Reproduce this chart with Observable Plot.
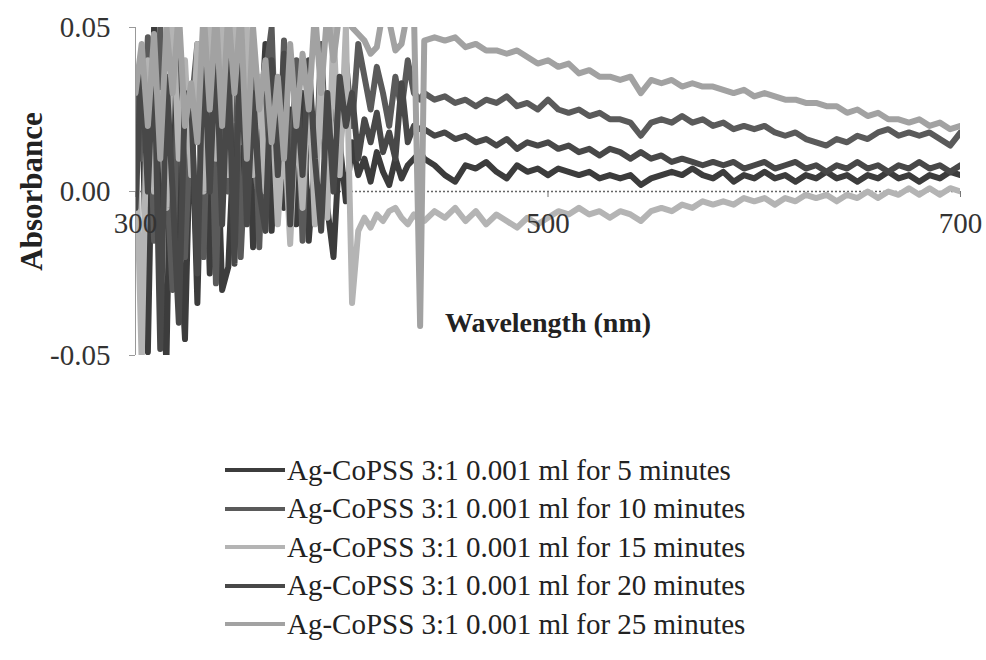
<!DOCTYPE html>
<html>
<head>
<meta charset="utf-8">
<script src="https://cdn.jsdelivr.net/npm/d3@7"></script>
<script src="https://cdn.jsdelivr.net/npm/@observablehq/plot@0.6"></script>
<style>
  body { margin: 0; background: #fff; font-family: "Liberation Serif", "Times New Roman", serif; }
  #chart svg { display: block; }
  #legend { margin-top: 51px; margin-left: 225px; }
  .row { height: 38.5px; display: flex; align-items: center; font-size: 29px; color: #222; white-space: nowrap; }
  .sw { width: 60px; height: 4px; margin-right: 2px; }
</style>
</head>
<body>
<div id="chart"></div>
<div id="legend"></div>
<script>
// Wavelengths (nm)
const wavelength = [
  300,303,306,309,312,315,318,321,324,327,330,333,336,339,342,345,348,351,354,357,
  360,363,366,369,372,375,378,381,384,387,390,393,396,399,
  402,405,408,411,414,417,420,423,426,429,432,435,438,
  440,445,450,455,460,465,470,475,480,485,490,495,500,505,510,515,520,525,530,535,
  540,545,550,555,560,565,570,575,580,585,590,595,600,605,610,615,620,625,630,635,
  640,645,650,655,660,665,670,675,680,685,690,695,700
];

const seriesNames = [
  "Ag-CoPSS 3:1 0.001 ml for 5 minutes",
  "Ag-CoPSS 3:1 0.001 ml for 10 minutes",
  "Ag-CoPSS 3:1 0.001 ml for 15 minutes",
  "Ag-CoPSS 3:1 0.001 ml for 20 minutes",
  "Ag-CoPSS 3:1 0.001 ml for 25 minutes"
];
const seriesColors = ["#3c3c3c", "#5a5a5a", "#b4b4b4", "#484848", "#a2a2a2"];

const abs5min = [
  0.020,0.035,-0.049,0.050,-0.020,-0.052,0.050,-0.010,-0.045,0.030,-0.034,0.040,-0.025,0.030,-0.030,-0.023,0.020,-0.015,0.040,-0.017,
  0.010,0.045,-0.012,0.020,-0.005,0.025,-0.010,0.030,-0.015,0.010,0.035,-0.005,-0.020,0.015,
  -0.003,0.015,0.005,0.010,0.003,0.012,0.006,0.002,0.010,0.004,0.008,0.010,0.012,
  0.010,0.008,0.005,0.003,0.008,0.007,0.009,0.006,0.004,0.008,0.006,0.007,0.005,0.007,0.006,0.005,0.006,0.004,0.005,0.004,
  0.005,0.002,0.004,0.005,0.006,0.005,0.007,0.005,0.004,0.006,0.003,0.005,0.004,0.006,0.004,0.005,0.003,0.005,0.004,0.006,
  0.004,0.005,0.003,0.005,0.004,0.006,0.004,0.005,0.003,0.005,0.004,0.006,0.005
];
const abs10min = [
  0.035,0.010,0.047,-0.015,0.050,0.005,-0.030,0.045,-0.020,0.025,0.045,-0.020,0.050,-0.028,0.040,0.000,0.050,-0.020,0.020,0.045,
  -0.017,0.035,0.050,-0.005,0.046,0.000,0.040,-0.015,0.030,0.000,0.045,0.005,0.035,0.010,
  0.040,0.020,0.045,0.035,0.025,0.038,0.030,0.020,0.035,0.025,0.040,0.030,0.028,
  0.030,0.028,0.029,0.027,0.028,0.026,0.028,0.027,0.029,0.026,0.027,0.025,0.028,0.025,0.024,0.025,0.023,0.024,0.022,0.022,
  0.021,0.017,0.021,0.022,0.021,0.023,0.021,0.022,0.020,0.021,0.019,0.020,0.019,0.020,0.018,0.017,0.018,0.016,0.015,0.014,
  0.016,0.015,0.017,0.016,0.018,0.019,0.017,0.018,0.017,0.018,0.016,0.014,0.018
];
const abs15min = [
  0.020,-0.052,0.040,0.000,0.030,-0.005,0.055,0.010,0.040,0.005,0.045,0.000,0.055,0.010,0.050,0.005,0.055,0.015,0.050,0.005,
  0.035,0.000,0.030,-0.010,0.020,-0.016,0.025,-0.005,0.035,-0.010,0.040,-0.008,0.050,0.005,
  0.050,-0.034,-0.012,-0.008,-0.011,-0.007,-0.009,-0.006,-0.005,-0.008,-0.010,-0.007,-0.009,
  -0.009,-0.006,-0.008,-0.005,-0.009,-0.006,-0.010,-0.007,-0.009,-0.011,-0.008,-0.010,-0.008,-0.006,-0.007,-0.005,-0.007,-0.006,-0.008,-0.006,
  -0.007,-0.009,-0.006,-0.005,-0.006,-0.004,-0.005,-0.003,-0.004,-0.003,-0.004,-0.002,-0.003,-0.002,-0.004,-0.002,-0.003,-0.001,-0.002,-0.001,
  -0.003,-0.001,-0.002,0.000,-0.002,0.000,-0.001,0.001,-0.001,0.001,-0.001,0.001,0.000
];
const abs20min = [
  -0.005,0.040,0.000,0.045,-0.048,0.035,0.000,-0.040,0.030,0.028,-0.025,0.048,0.000,0.045,-0.010,0.040,-0.022,0.050,-0.010,0.030,
  0.000,-0.012,0.040,0.005,0.042,-0.010,0.030,0.005,0.040,0.010,-0.012,0.030,0.000,0.035,
  0.020,0.030,0.010,0.022,0.015,0.024,0.012,0.018,0.010,0.033,0.015,0.020,0.019,
  0.019,0.017,0.018,0.016,0.017,0.015,0.016,0.014,0.016,0.013,0.015,0.014,0.015,0.013,0.014,0.012,0.013,0.011,0.013,0.012,
  0.010,0.012,0.010,0.011,0.009,0.010,0.009,0.008,0.009,0.008,0.009,0.007,0.008,0.009,0.007,0.008,0.009,0.007,0.008,0.006,
  0.008,0.007,0.009,0.007,0.008,0.006,0.008,0.007,0.009,0.007,0.008,0.006,0.008
];
const abs25min = [
  0.030,0.045,0.020,0.048,0.010,0.050,0.030,0.055,0.020,0.033,0.015,0.055,0.025,0.055,0.020,0.055,0.030,0.055,0.010,0.050,
  0.025,0.040,0.015,0.035,0.010,0.045,0.020,0.042,0.025,0.055,0.030,0.055,0.040,0.055,
  0.055,0.050,0.048,0.046,0.042,0.044,0.055,0.052,0.043,0.045,0.055,0.055,-0.041,
  0.046,0.047,0.046,0.047,0.044,0.045,0.043,0.043,0.042,0.043,0.041,0.039,0.040,0.038,0.039,0.036,0.037,0.035,0.035,0.034,
  0.035,0.030,0.034,0.033,0.034,0.032,0.033,0.032,0.032,0.031,0.030,0.031,0.029,0.030,0.029,0.028,0.028,0.027,0.027,0.026,
  0.026,0.024,0.025,0.023,0.024,0.022,0.022,0.021,0.022,0.020,0.021,0.019,0.020
];

const xTicks = [300, 500, 700];
const yTicks = [-0.05, 0, 0.05];
const xAxisCrossing = 0;
const xLabel = "Wavelength (nm)";
const yLabel = "Absorbance";

const seriesValues = [abs5min, abs10min, abs15min, abs20min, abs25min];
const data = [];
seriesNames.forEach((name, s) => {
  wavelength.forEach((w, i) => data.push({series: name, wl: w, v: seriesValues[s][i]}));
});

const chart = Plot.plot({
  width: 986,
  height: 400,
  marginLeft: 135,
  marginRight: 26,
  marginTop: 27,
  marginBottom: 45,
  x: {domain: [300, 700], axis: null},
  y: {domain: [-0.05, 0.05], axis: null},
  color: {domain: seriesNames, range: seriesColors},
  style: {fontFamily: "'Liberation Serif', 'Times New Roman', serif", background: "#fff", overflow: "visible"},
  marks: [
    Plot.ruleY([xAxisCrossing], {stroke: "#666", strokeWidth: 1.5, strokeDasharray: "2,2"}),
    Plot.line(data, {x: "wl", y: "v", z: "series", stroke: "series", strokeWidth: 6, clip: true, curve: "linear"}),
    Plot.ruleX([300], {stroke: "#999", strokeWidth: 1}),
    Plot.axisY(yTicks, {tickSize: 6, tickPadding: 19, tickFormat: d => d.toFixed(2), fontSize: 29, stroke: "#999", fill: "#333", label: null}),
    Plot.ruleX(xTicks, {x: d => d, y1: () => xAxisCrossing, y2: () => xAxisCrossing, insetBottom: -6, stroke: "#777"}),
    Plot.text(xTicks, {x: d => d, y: () => xAxisCrossing, dy: 32, text: d => String(d), fontSize: 29, fill: "#333"}),
    Plot.text([xLabel], {frameAnchor: "bottom", dy: -24, text: d => d, fontSize: 28, fontWeight: "bold", fill: "#222"}),
    Plot.text([yLabel], {frameAnchor: "left", textAnchor: "middle", dx: -103, rotate: -90, text: d => d, fontSize: 31, fontWeight: "bold", fill: "#222"})
  ]
});
document.getElementById("chart").appendChild(chart);

const legend = document.getElementById("legend");
seriesNames.forEach((name, i) => {
  const row = document.createElement("div");
  row.className = "row";
  const sw = document.createElement("span");
  sw.className = "sw";
  sw.style.background = seriesColors[i];
  const t = document.createElement("span");
  t.textContent = name;
  row.appendChild(sw);
  row.appendChild(t);
  legend.appendChild(row);
});
</script>
</body>
</html>
